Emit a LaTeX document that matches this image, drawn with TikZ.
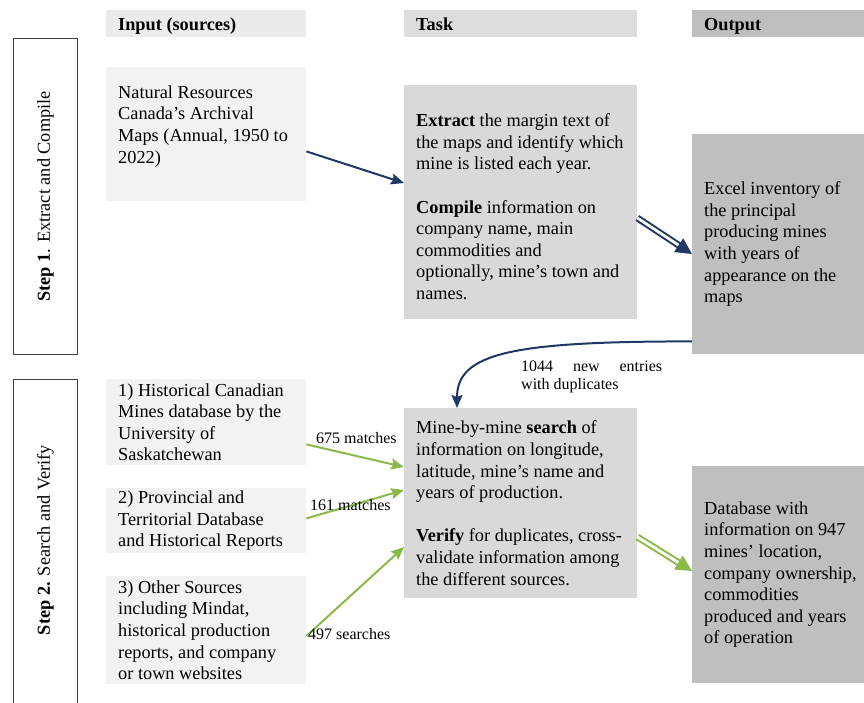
\documentclass[tikz,border=0pt]{standalone}
\usepackage{fontspec}
\setmainfont{Liberation Serif}
\usepackage{tikz}
\usetikzlibrary{arrows.meta,positioning}

\definecolor{navy}{RGB}{31,56,100}
\definecolor{leaf}{RGB}{141,184,74}
\definecolor{pale}{RGB}{242,242,242}
\definecolor{mid}{RGB}{217,217,217}
\definecolor{dark}{RGB}{191,191,191}

\begin{document}
\begin{tikzpicture}[x=1pt,y=-1pt,
		font=\fontsize{18.3}{21.6}\selectfont,
		box/.style={anchor=north west, inner sep=0pt},
		srcbox/.style={box, fill=pale, minimum width=200pt},
		taskbox/.style={box, fill=mid, minimum width=233pt},
		outbox/.style={box, fill=dark, minimum width=172pt},
		stepbox/.style={box, draw=black!75, line width=0.9pt, minimum width=64pt},
		head/.style={box, minimum height=27pt},
		txt/.style={anchor=west, align=left, inner sep=0pt},
		headtxt/.style={anchor=base west, inner sep=0pt, font=\fontsize{18.3}{21.6}\selectfont\bfseries},
		lbl/.style={inner sep=0pt, font=\fontsize{16}{18}\selectfont},
		navyarrow/.style={draw=navy, line width=2pt, -{Stealth[length=13pt,width=11pt,inset=2pt]}},
		leafarrow/.style={draw=leaf, line width=2pt, -{Stealth[length=13pt,width=11pt,inset=2pt]}},
		twin/.style={double, line width=2pt, double distance=2.8pt, -{Triangle[length=16pt,width=16pt]}}]
	\useasboundingbox (0,0) rectangle (864,702);

	% step frames
	\node[stepbox, minimum height=316pt] (step1) at (13,38) {};
	\node[stepbox, minimum height=340pt] (step2) at (13,379) {};
	\node[rotate=90, inner sep=0pt] (step1-txt) at (step1.center) {\textbf{Step 1}. Extract and Compile};
	\node[rotate=90, inner sep=0pt] (step2-txt) at ([yshift=-161pt]step2.north) {\textbf{Step 2.} Search and Verify};

	% column heads
	\node[head, fill=pale!97!black, minimum width=200pt] (h-in) at (106,10) {};
	\node[head, fill=mid!90!white, minimum width=233pt] (h-task) at (404,10) {};
	\node[head, fill=dark, minimum width=172pt] (h-out) at (692,10) {};
	\node[headtxt] (h-in-txt) at ([xshift=12pt,yshift=-6.5pt]h-in.west) {Input (sources)};
	\node[headtxt] (h-task-txt) at ([xshift=12pt,yshift=-6.5pt]h-task.west) {Task};
	\node[headtxt] (h-out-txt) at ([xshift=12pt,yshift=-6.5pt]h-out.west) {Output};

	% step 1
	\node[srcbox, minimum height=134pt] (nrc) at (106,67) {};
	\node[txt] (nrc-txt) at ([xshift=12pt,yshift=8pt]nrc.west) {Natural Resources\\Canada’s Archival\\Maps (Annual, 1950 to\\2022)};
	\node[taskbox, minimum height=234pt] (task1) at (404,85) {};
	\node[txt] (task1-txt) at ([xshift=12pt,yshift=-4.5pt]task1.west) {\textbf{Extract} the margin text of\\the maps and identify which\\mine is listed each year.\\[21.6pt]\textbf{Compile} information on\\company name, main\\commodities and\\optionally, mine’s town and\\names.};
	\node[outbox, minimum height=220pt] (out1) at (692,134) {};
	\node[txt] (out1-txt) at ([xshift=12pt]out1.west) {Excel inventory of\\the principal\\producing mines\\with years of\\appearance on the\\maps};

	% step 2
	\node[srcbox, minimum height=86pt] (src1) at (106,379) {};
	\node[txt] (src1-txt) at ([xshift=12pt]src1.west) {1) Historical Canadian\\Mines database by the\\University of\\Saskatchewan};
	\node[srcbox, minimum height=65pt] (src2) at (106,488) {};
	\node[txt] (src2-txt) at ([xshift=12pt]src2.west) {2) Provincial and\\Territorial Database\\and Historical Reports};
	\node[srcbox, minimum height=108pt] (src3) at (106,576) {};
	\node[txt] (src3-txt) at ([xshift=12pt]src3.west) {3) Other Sources\\including Mindat,\\historical production\\reports, and company\\or town websites};
	\node[taskbox, minimum height=190pt] (task2) at (404,408) {};
	\node[txt] (task2-txt) at ([xshift=12pt]task2.west) {Mine-by-mine \textbf{search} of\\information on longitude,\\latitude, mine’s name and\\years of production.\\[21.6pt]\textbf{Verify} for duplicates, cross-\\validate information among\\the different sources.};
	\node[outbox, minimum height=217pt] (out2) at (692,466) {};
	\node[txt] (out2-txt) at ([xshift=12pt]out2.west) {Database with\\information on 947\\mines’ location,\\company ownership,\\commodities\\produced and years\\of operation};

	% connectors
	\draw[navyarrow] ([yshift=50pt]nrc.south east) -- ([yshift=-98pt]task1.north west);
	\draw[twin, draw=navy] ([yshift=-133pt]task1.north east) -- ([yshift=-120pt]out1.north west);
	\draw[navyarrow] ([yshift=13pt]out1.south west) .. controls +(-180,0) and +(0,-55) .. ([xshift=53pt]task2.north west);
	\draw[leafarrow] ([yshift=21pt]src1.south east) -- ([yshift=-59pt]task2.north west);
	\draw[leafarrow] ([yshift=35pt]src2.south east) -- ([yshift=-82pt]task2.north west);
	\draw[leafarrow] ([yshift=-60pt]src3.north east) -- ([yshift=-139pt]task2.north west);
	\draw[twin, draw=leaf] ([yshift=-129pt]task2.north east) -- ([yshift=-105pt]out2.north west);

	% counts
	\node[lbl, anchor=north west, align=left] (dup) at (521,361) {\makebox[141pt][s]{1044 new entries}\\with duplicates};
	\node[lbl, anchor=west] (m675) at (316,438) {675 matches};
	\node[lbl, anchor=west] (m161) at (310,505) {161 matches};
	\node[lbl, anchor=west] (s497) at (308,634) {497 searches};
\end{tikzpicture}
\end{document}
